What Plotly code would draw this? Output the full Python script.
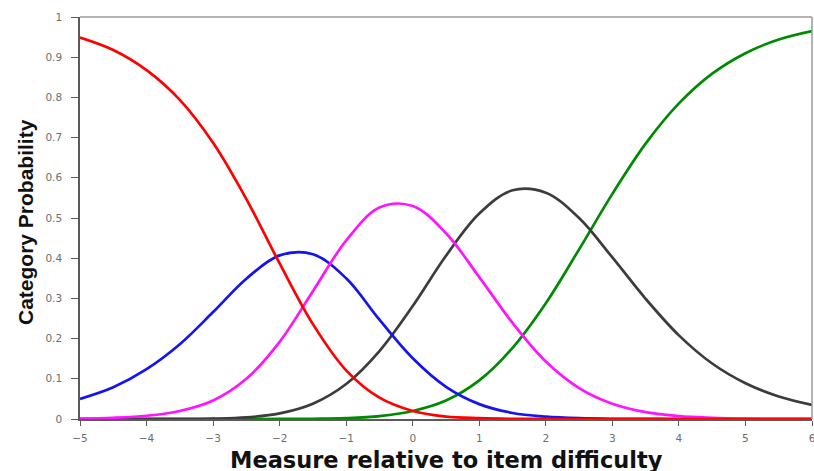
import plotly.graph_objects as go

# Measure relative to item difficulty (logits)
x_vals = [-5, -4.5, -4, -3.5, -3, -2.5, -2, -1.5, -1, -0.5, 0, 0.5, 1, 1.5,
          2, 2.5, 3, 3.5, 4, 4.5, 5, 5.5, 6]

# Category probabilities
cat_red = [0.949, 0.918, 0.868, 0.794, 0.687, 0.547, 0.387, 0.236, 0.121, 0.053,
           0.020, 0.006, 0.002, 0.0004, 0.0001, 0, 0, 0, 0, 0, 0, 0, 0]
cat_blue = [0.050, 0.079, 0.124, 0.186, 0.266, 0.349, 0.407, 0.410, 0.350, 0.247,
            0.151, 0.080, 0.037, 0.015, 0.006, 0.002, 0.0005, 0.0002, 0, 0, 0, 0, 0]
cat_magenta = [0.001, 0.003, 0.008, 0.020, 0.046, 0.100, 0.192, 0.318, 0.444, 0.526,
               0.530, 0.462, 0.353, 0.239, 0.143, 0.077, 0.038, 0.017, 0.007, 0.003,
               0.001, 0.0004, 0.0002]
cat_gray = [0, 0, 0.0001, 0.0003, 0.001, 0.004, 0.014, 0.038, 0.087, 0.169,
            0.281, 0.406, 0.511, 0.569, 0.563, 0.500, 0.402, 0.299, 0.208, 0.138,
            0.089, 0.056, 0.035]
cat_green = [0, 0, 0, 0, 0, 0, 0.0001, 0.0006, 0.002, 0.007,
             0.020, 0.046, 0.096, 0.177, 0.288, 0.422, 0.560, 0.685, 0.785, 0.859,
             0.910, 0.944, 0.965]

x_ticks = [-5, -4, -3, -2, -1, 0, 1, 2, 3, 4, 5, 6]
y_ticks = [0, 0.1, 0.2, 0.3, 0.4, 0.5, 0.6, 0.7, 0.8, 0.9, 1]
y_tick_text = ["0", "0.1", "0.2", "0.3", "0.4", "0.5", "0.6", "0.7", "0.8", "0.9", "1"]

series = [
    (cat_green, "#008a00"),
    (cat_gray, "#3c3c3c"),
    (cat_blue, "#1414f0"),
    (cat_magenta, "#ff14ff"),
    (cat_red, "#ff0000"),
]

fig = go.Figure()
for vals, col in series:
    fig.add_trace(go.Scatter(
        x=x_vals, y=vals, mode="lines",
        line=dict(color=col, width=2.7, shape="spline", smoothing=1.0),
        showlegend=False, hoverinfo="skip",
    ))

axis_col = "#5a5a5a"
tick_font = dict(family="DejaVu Sans, Verdana, sans-serif", size=10.5, color="#6e6e6e")
fig.update_layout(
    width=814, height=471,
    margin=dict(l=80, r=2, t=17, b=52),
    paper_bgcolor="white", plot_bgcolor="white",
    font=dict(family="DejaVu Sans, sans-serif", color="#6e6e6e", size=10),
    xaxis=dict(
        range=[-5, 6], tickmode="array", tickvals=x_ticks, automargin=False,
        showgrid=False, zeroline=False, showline=True, linecolor=axis_col, linewidth=1.5,
        ticks="outside", ticklen=5, tickcolor=axis_col, tickwidth=1,
        tickfont=tick_font, ticklabelstandoff=4, ticklabeloverflow="allow",
    ),
    yaxis=dict(
        range=[0, 1], tickmode="array", tickvals=y_ticks, ticktext=y_tick_text, automargin=False,
        showgrid=False, zeroline=False, showline=True, linecolor=axis_col, linewidth=1.5,
        ticks="outside", ticklen=7, tickcolor=axis_col, tickwidth=1,
        tickfont=tick_font, ticklabelstandoff=7, ticklabeloverflow="allow",
    ),
    shapes=[
        dict(type="line", xref="paper", yref="paper", x0=0, x1=1, y0=1, y1=1,
             line=dict(color="#9a9a9a", width=1.5)),
        dict(type="line", xref="paper", yref="paper", x0=1, x1=1, y0=0, y1=1,
             line=dict(color="#9a9a9a", width=1.5)),
    ],
    annotations=[
        dict(text="<b>Measure relative to item difficulty</b>", xref="paper", yref="paper",
             x=0.5, y=0, yanchor="middle", xanchor="center", yshift=-41, xshift=0,
             showarrow=False,
             font=dict(family="DejaVu Sans, Verdana, sans-serif", size=22.5, color="#111111")),
        dict(text="<b>Category Probability</b>", xref="paper", yref="paper",
             x=0, y=0.5, xanchor="center", yanchor="middle", xshift=-55, yshift=-4,
             textangle=-90, showarrow=False,
             font=dict(family="Liberation Sans, Arial, sans-serif",
                       size=21, color="#111111")),
    ],
)

fig.write_html(
    "out.html",
    config={"displayModeBar": False},
    post_script="document.body.style.margin='0';document.body.style.overflow='hidden';",
)
